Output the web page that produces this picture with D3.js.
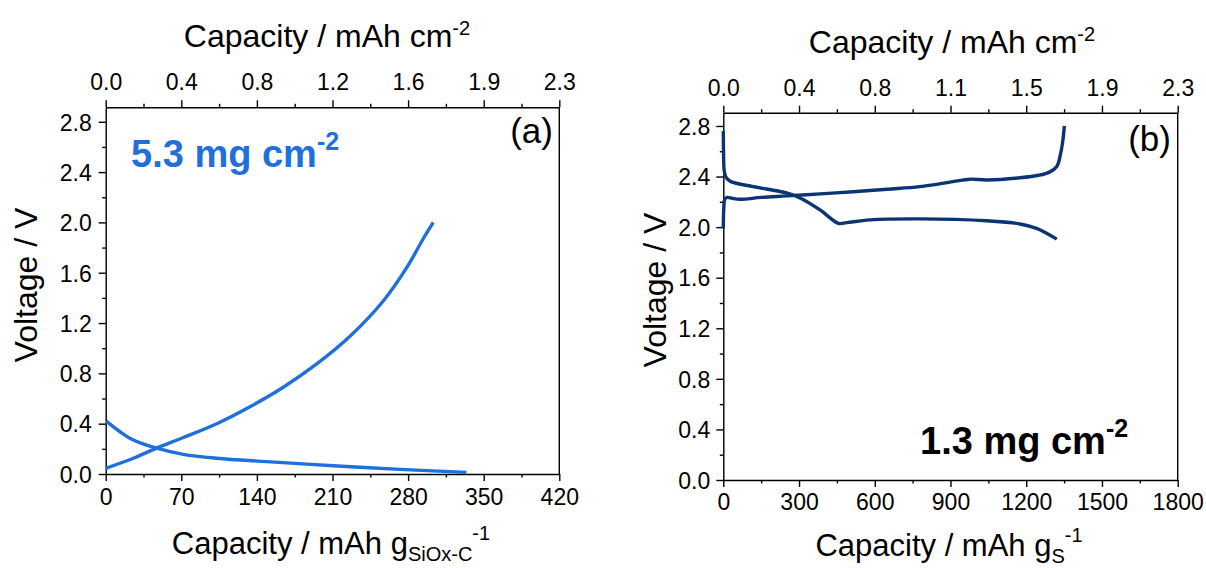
<!DOCTYPE html>
<html>
<head>
<meta charset="utf-8">
<script src="https://cdn.jsdelivr.net/npm/d3@7"></script>
<style>
  body { margin: 0; background: #fff; }
  svg { display: block; font-family: "Liberation Sans", Arial, sans-serif; }
</style>
</head>
<body>
<svg id="chart" width="1206" height="568"></svg>
<script>
// panel (a): SiOx-C anode, 5.3 mg cm-2
var a_charge = [[0,0.045],[25.6,0.125],[45.6,0.2],[71.9,0.29],[102.8,0.4],[133.6,0.535],
  [164.4,0.69],[195.4,0.875],[226.2,1.095],[257,1.375],[278.7,1.64],[294,1.87],[303.3,2.0]];
var a_discharge = [[0.5,0.42],[13.2,0.336],[25.6,0.27],[45.6,0.209],[71.9,0.156],[102.8,0.125],
  [149,0.098],[210.7,0.066],[272.5,0.037],[334,0.013]];
var a_xticks = [0, 70, 140, 210, 280, 350, 420];
var a_toplabels = ['0.0', '0.4', '0.8', '1.2', '1.6', '1.9', '2.3'];

// panel (b): sulfur cathode, 1.3 mg cm-2
var b_charge = [[0,1.99],[2,2.15],[6,2.22],[15,2.235],[35,2.228],[66,2.22],[150,2.235],[251,2.247],
  [400,2.265],[514,2.28],[650,2.3],[779,2.32],[910,2.36],[977,2.379],[1043,2.373],[1175,2.39],
  [1250,2.41],[1292,2.435],[1321,2.48],[1336,2.58],[1346,2.7],[1351,2.8]];
var b_discharge = [[0,2.76],[1,2.6],[4,2.44],[12,2.39],[30,2.36],[119,2.32],[251,2.27],[304,2.23],
  [383,2.136],[456,2.03],[489,2.036],[581,2.057],[779,2.065],[1043,2.05],[1175,2.025],
  [1241,1.99],[1321,1.905]];
var b_xticks = [0, 300, 600, 900, 1200, 1500, 1800];
var b_toplabels = ['0.0', '0.4', '0.8', '1.1', '1.5', '1.9', '2.3'];

var yticks = [0, 0.4, 0.8, 1.2, 1.6, 2.0, 2.4, 2.8];

var svg = d3.select('#chart');

function drawPanel(p) {
  var x = d3.scaleLinear().domain([0, p.xmax]).range([p.x0, p.x1]);
  var y = d3.scaleLinear().domain([0, p.ymax]).range([p.y1, p.y0]);
  var step = p.xticks[1] - p.xticks[0];
  var xminor = d3.range(step / 2, p.xmax, step);
  var yminor = d3.range(0.2, p.ymax, 0.4);

  function style(g) {
    g.selectAll('path, line').attr('stroke', '#000').attr('stroke-width', 1.4);
    g.selectAll('text').attr('fill', '#000').style('font-size', '23px')
      .style('font-family', '"Liberation Sans", Arial, sans-serif');
  }

  // bottom
  var gb = svg.append('g').attr('transform', 'translate(0,' + p.y1 + ')')
    .call(d3.axisBottom(x).tickValues(p.xticks).tickSize(7).tickSizeOuter(0).tickFormat(d3.format('d')));
  gb.selectAll('text').attr('y', p.bottomLabelY).attr('dy', 0);
  style(gb);
  var gbm = svg.append('g').attr('transform', 'translate(0,' + p.y1 + ')')
    .call(d3.axisBottom(x).tickValues(xminor).tickSize(3.5).tickFormat(''));
  gbm.select('.domain').remove();
  style(gbm);

  // top
  var gt = svg.append('g').attr('transform', 'translate(0,' + p.y0 + ')')
    .call(d3.axisTop(x).tickValues(p.xticks).tickSize(7).tickSizeOuter(0)
      .tickFormat(function(d, i) { return p.toplabels[i]; }));
  gt.selectAll('text').attr('y', -17).attr('dy', 0);
  style(gt);
  var gtm = svg.append('g').attr('transform', 'translate(0,' + p.y0 + ')')
    .call(d3.axisTop(x).tickValues(xminor).tickSize(3.5).tickFormat(''));
  gtm.select('.domain').remove();
  style(gtm);

  // left
  var gl = svg.append('g').attr('transform', 'translate(' + p.x0 + ',0)')
    .call(d3.axisLeft(y).tickValues(yticks).tickSize(7).tickSizeOuter(0).tickFormat(d3.format('.1f')));
  gl.selectAll('text').attr('x', p.leftLabelX).attr('dy', '0.36em');
  style(gl);
  var glm = svg.append('g').attr('transform', 'translate(' + p.x0 + ',0)')
    .call(d3.axisLeft(y).tickValues(yminor).tickSize(3.5).tickFormat(''));
  glm.select('.domain').remove();
  style(glm);

  // right frame line
  svg.append('line')
    .attr('x1', p.x1).attr('x2', p.x1).attr('y1', p.y0).attr('y2', p.y1)
    .attr('stroke', '#000').attr('stroke-width', 1.4);

  var line = d3.line().x(d => x(d[0])).y(d => y(d[1])).curve(d3.curveCatmullRom.alpha(0.5));
  for (let s of [p.charge, p.discharge]) {
    svg.append('path').datum(s)
      .attr('d', line)
      .attr('fill', 'none')
      .attr('stroke', p.color)
      .attr('stroke-width', 3.4)
      .attr('stroke-linejoin', 'round')
      .attr('stroke-linecap', 'butt');
  }

  // top title
  var tt = svg.append('text').attr('x', p.topTitleX).attr('y', p.topTitleY)
    .attr('text-anchor', 'middle').style('font-size', '32px');
  tt.append('tspan').text('Capacity / mAh cm');
  tt.append('tspan').attr('dy', -12).style('font-size', '20px').text('-2');

  // bottom title
  var bt = svg.append('text').attr('x', p.bottomTitleX).attr('y', p.bottomTitleY)
    .attr('text-anchor', 'middle').style('font-size', '31px');
  bt.append('tspan').text('Capacity / mAh g');
  bt.append('tspan').attr('dy', 7).style('font-size', '20px').text(p.sub);
  bt.append('tspan').attr('dy', -21).style('font-size', '20px').text('-1');

  // y title
  svg.append('text')
    .attr('transform', 'translate(' + p.yTitleX + ',' + p.yTitleY + ') rotate(-90)')
    .attr('text-anchor', 'middle').style('font-size', '32px')
    .text('Voltage / V');

  // panel letter
  svg.append('text').attr('x', p.letterX).attr('y', p.letterY)
    .attr('text-anchor', 'end').style('font-size', '35px').text(p.letter);

  // loading label
  var ml = svg.append('text').attr('x', p.massX).attr('y', p.massY)
    .attr('fill', p.massColor).style('font-size', '38px').style('font-weight', 'bold');
  ml.append('tspan').text(p.mass + ' mg cm');
  ml.append('tspan').attr('dy', -17).style('font-size', '25px').text('-2');
}

drawPanel({
  x0: 105.7, x1: 559.3, y0: 107.3, y1: 474, xmax: 420, ymax: 2.915,
  xticks: a_xticks, toplabels: a_toplabels, charge: a_charge, discharge: a_discharge,
  color: '#1f6fdc', bottomLabelY: 31, leftLabelX: -14,
  topTitleX: 327, topTitleY: 47, bottomTitleX: 331, bottomTitleY: 554, sub: 'SiOx-C',
  yTitleX: 37, yTitleY: 285, letter: '(a)', letterX: 553, letterY: 143,
  mass: '5.3', massX: 131, massY: 167, massColor: '#1f6fdc'
});

drawPanel({
  x0: 723.3, x1: 1177.7, y0: 112.7, y1: 480, xmax: 1800, ymax: 2.905,
  xticks: b_xticks, toplabels: b_toplabels, charge: b_charge, discharge: b_discharge,
  color: '#0b3474', bottomLabelY: 30, leftLabelX: -13,
  topTitleX: 952, topTitleY: 53, bottomTitleX: 949, bottomTitleY: 556, sub: 'S',
  yTitleX: 666, yTitleY: 290, letter: '(b)', letterX: 1171, letterY: 151,
  mass: '1.3', massX: 920, massY: 454, massColor: '#000'
});
</script>
</body>
</html>
